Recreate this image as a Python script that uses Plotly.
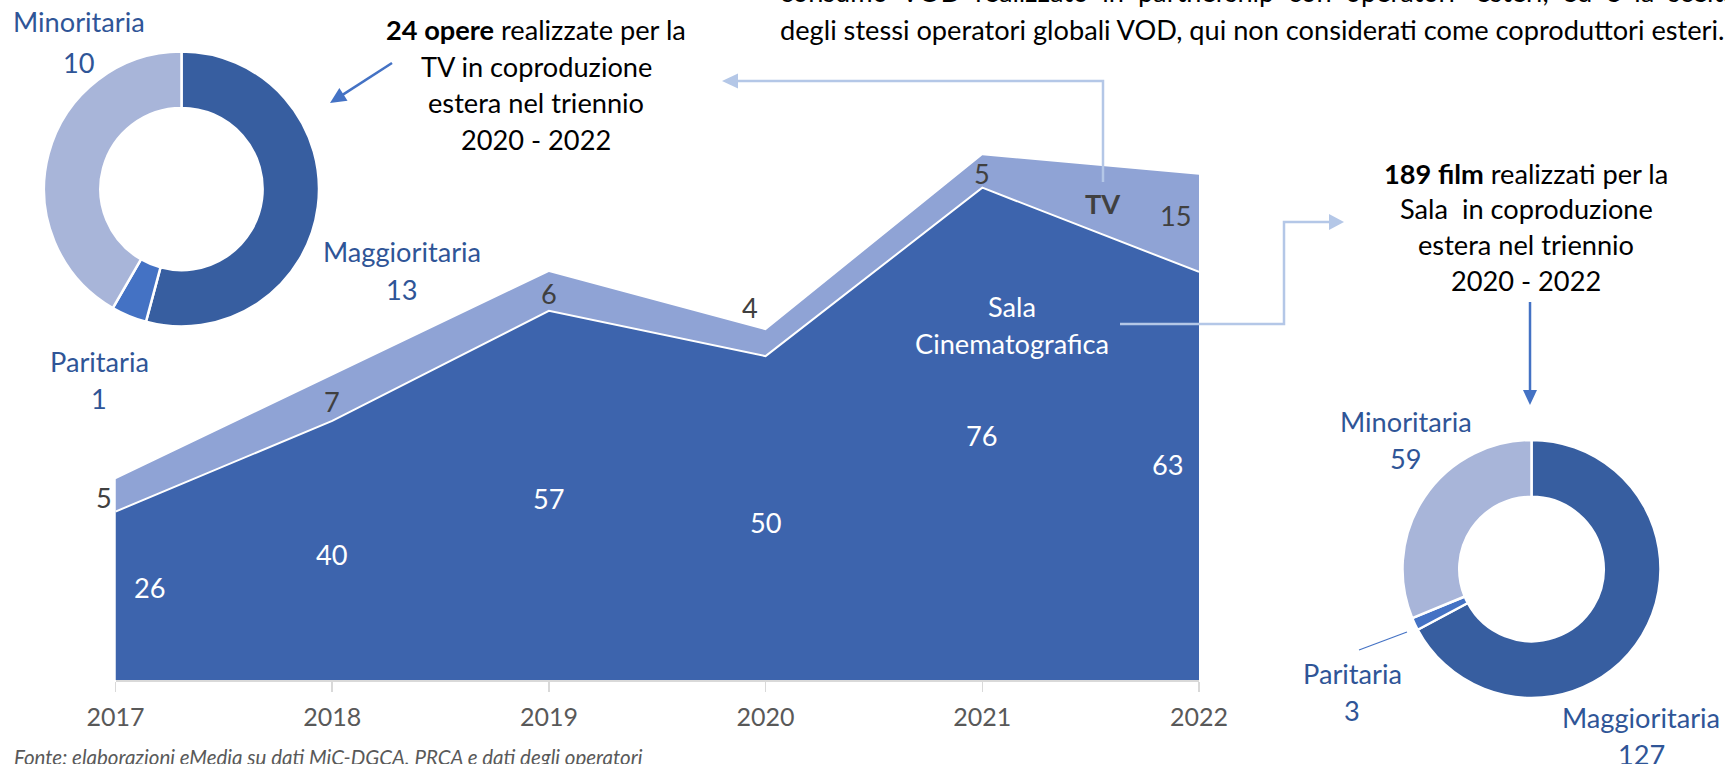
import math
import plotly.graph_objects as go

# ---------------- data ----------------
years = [2017, 2018, 2019, 2020, 2021, 2022]
sala = [26, 40, 57, 50, 76, 63]
tv = [5, 7, 6, 4, 5, 15]

pie_labels = ["Maggioritaria", "Paritaria", "Minoritaria"]
tv_pie_values = [13, 1, 10]
sala_pie_values = [127, 3, 59]

# ---------------- styling ----------------
W, H = 1725, 764
FONT = "Lato"
FS = 27.2
C_SALA = "#3D64AD"
C_TV = "#8FA3D5"
C_MAG = "#375EA0"
C_PAR = "#4472C4"
C_MIN = "#A8B5D9"
C_LBL = "#2F5597"
C_ARROW = "#4472C4"
C_CONN = "#B4C7E7"
C_DARK = "#404040"

# label offsets in pixels (Excel-like placement)
sala_xshift = [34, 0, 0, 0, 0, -31]
sala_yshift = [8, -4, -3, -4, -2, 11]
tv_xshift = [-11, 0, 0, -16, 0, -23]
tv_yshift = [-2, -3, -2, 36, -2, 8]


def px(x):
    return x / W


def py(y):
    return 1 - y / H


fig = go.Figure()

fig.add_trace(go.Scatter(
    x=years, y=sala, stackgroup="one", mode="lines",
    line=dict(color="white", width=2), fillcolor=C_SALA,
    hoverinfo="skip", name="Sala Cinematografica"))
fig.add_trace(go.Scatter(
    x=years, y=tv, stackgroup="one", mode="lines",
    line=dict(color=C_TV, width=0), fillcolor=C_TV,
    hoverinfo="skip", name="TV"))

fig.add_trace(go.Pie(
    labels=pie_labels, values=tv_pie_values, sort=False,
    direction="clockwise", rotation=0, hole=0.59,
    marker=dict(colors=[C_MAG, C_PAR, C_MIN], line=dict(color="white", width=2.5)),
    textinfo="none", hoverinfo="skip",
    domain=dict(x=[px(44), px(319)], y=[py(326.5), py(51.5)])))
fig.add_trace(go.Pie(
    labels=pie_labels, values=sala_pie_values, sort=False,
    direction="clockwise", rotation=0, hole=0.56,
    marker=dict(colors=[C_MAG, C_PAR, C_MIN], line=dict(color="white", width=2.5)),
    textinfo="none", hoverinfo="skip",
    domain=dict(x=[px(1402.5), px(1660.5)], y=[py(698), py(440)])))

annotations = []

# value labels on the stacked areas
for i, yr in enumerate(years):
    annotations.append(dict(
        x=yr, y=sala[i] / 2, xref="x", yref="y", text=str(sala[i]),
        showarrow=False, xshift=sala_xshift[i], yshift=sala_yshift[i],
        font=dict(family=FONT, size=FS, color="white")))
    annotations.append(dict(
        x=yr, y=sala[i] + tv[i] / 2, xref="x", yref="y", text=str(tv[i]),
        showarrow=False, xshift=tv_xshift[i], yshift=tv_yshift[i],
        font=dict(family=FONT, size=FS, color=C_DARK)))


def text_at(x, y, txt, size=FS, color="black", xanchor="center", italic=False):
    annotations.append(dict(
        x=px(x), y=py(y), xref="paper", yref="paper", text=txt,
        showarrow=False, xanchor=xanchor, yanchor="middle",
        font=dict(family=FONT, size=size, color=color,
                  style="italic" if italic else "normal")))


# series names on the area
text_at(1103, 203, "<b>TV</b>", color=C_DARK)
text_at(1012, 306, "Sala", color="white")
text_at(1012, 343, "Cinematografica", color="white")

# left pie labels
text_at(79, 22, "Minoritaria", color=C_LBL)
text_at(79, 62, str(tv_pie_values[2]), color=C_LBL)
text_at(401.5, 252, "Maggioritaria", color=C_LBL)
text_at(401.5, 289, str(tv_pie_values[0]), color=C_LBL)
text_at(99, 361, "Paritaria", color=C_LBL)
text_at(99, 398, str(tv_pie_values[1]), color=C_LBL)

# right pie labels
text_at(1406, 421, "Minoritaria", color=C_LBL)
text_at(1406, 458, str(sala_pie_values[2]), color=C_LBL)
text_at(1352, 673, "Paritaria", color=C_LBL)
text_at(1352, 710, str(sala_pie_values[1]), color=C_LBL)
text_at(1641, 717, "Maggioritaria", color=C_LBL)
text_at(1641, 754, str(sala_pie_values[0]), color=C_LBL)

# explanatory texts
for i, line in enumerate(["<b>24 opere</b> realizzate per la", "TV in coproduzione",
                          "estera nel triennio", "2020 - 2022"]):
    text_at(536, 30 + i * 36.5, line)
for i, line in enumerate(["<b>189 film</b> realizzati per la", "Sala  in coproduzione",
                          "estera nel triennio", "2020 - 2022"]):
    text_at(1526, 173 + i * 35.7, line)

text_at(778, -9, "consumo  VOD  realizzato  in  partnership  con  operatori   esteri,  ed  è  la  scelta",
        xanchor="left")
text_at(778, 30, "degli stessi operatori globali VOD, qui non considerati come coproduttori esteri.",
        xanchor="left")

text_at(12, 757, "Fonte: elaborazioni eMedia su dati MiC-DGCA, PRCA e dati degli operatori",
        size=20.5, color="#595959", xanchor="left", italic=True)

# ---------------- connectors & arrows ----------------
shapes = []


def poly(points, color, width=2.5, fill=None):
    d = "M " + " L ".join(f"{px(x):.5f},{py(y):.5f}" for x, y in points)
    if fill:
        d += " Z"
    shapes.append(dict(type="path", path=d, xref="paper", yref="paper",
                       line=dict(color=color, width=0 if fill else width),
                       fillcolor=fill if fill else "rgba(0,0,0,0)"))


def head(tip, ux, uy, color, length=16, half=7.5):
    bx, by = tip[0] - ux * length, tip[1] - uy * length
    pxv, pyv = -uy, ux
    poly([tip, (bx + pxv * half, by + pyv * half), (bx - pxv * half, by - pyv * half)],
         color, fill=color)
    return (bx, by)


# left diagonal arrow
sx, sy, tx, ty = 392, 63, 330, 103
L = math.hypot(tx - sx, ty - sy)
ux, uy = (tx - sx) / L, (ty - sy) / L
b = head((tx, ty), ux, uy, C_ARROW, length=16, half=7.5)
poly([(sx, sy), (b[0] + ux * 2, b[1] + uy * 2)], C_ARROW, width=2.5)

# TV connector
b = head((722, 81), -1, 0, C_CONN, length=16, half=7.5)
poly([(1103, 182), (1103, 81), (b[0] - 1, 81)], C_CONN, width=2.5)

# Sala connector
b = head((1344, 222), 1, 0, C_CONN, length=15, half=8)
poly([(1120, 324), (1284, 324), (1284, 222), (b[0] + 1, 222)], C_CONN, width=2.5)

# down arrow to right pie
b = head((1530, 405), 0, 1, C_ARROW, length=15, half=7)
poly([(1530, 302), (1530, b[1] + 1)], C_ARROW, width=2.5)

# Paritaria leader line
poly([(1407, 632), (1359, 650)], C_ARROW, width=1.2)

fig.update_layout(
    width=W, height=H, autosize=False,
    margin=dict(l=0, r=0, t=0, b=0, pad=0, autoexpand=False),
    paper_bgcolor="white", plot_bgcolor="rgba(0,0,0,0)",
    showlegend=False, annotations=annotations, shapes=shapes,
    xaxis=dict(domain=[px(115.5), px(1199)], range=[2017, 2022],
               tickvals=years, ticktext=[str(y) for y in years],
               showgrid=False, zeroline=False, showline=True,
               linecolor="#D9D9D9", linewidth=1.5, automargin=False,
               ticks="outside", ticklen=10, tickcolor="#D9D9D9", tickwidth=1.5,
               ticklabelstandoff=4,
               tickfont=dict(family=FONT, size=25, color="#595959"),
               fixedrange=True),
    yaxis=dict(domain=[py(680), py(97)], range=[0, 90], visible=False,
               automargin=False, fixedrange=True),
)

fig.write_html(
    "out.html",
    config={"displayModeBar": False, "staticPlot": True},
    post_script="document.body.style.margin='0px';document.body.style.overflow='hidden';",
)
